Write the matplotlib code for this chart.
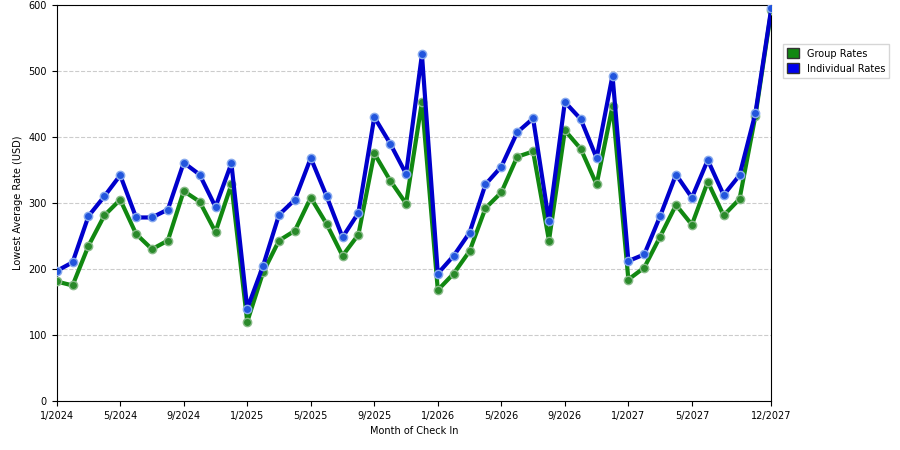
import matplotlib.pyplot as plt
from matplotlib.patches import Patch

individual = [197, 210, 280, 310, 342, 278, 278, 290, 361, 343, 294, 360,
              140, 205, 282, 305, 368, 310, 248, 285, 430, 390, 344, 525,
              193, 220, 255, 328, 355, 407, 428, 272, 453, 427, 368, 493,
              212, 222, 280, 343, 308, 365, 312, 342, 436, 595]
group = [181, 175, 235, 281, 305, 253, 230, 243, 318, 302, 256, 328,
         120, 195, 243, 258, 308, 268, 220, 252, 375, 334, 299, 453,
         168, 193, 227, 292, 316, 370, 378, 243, 410, 382, 328, 447,
         184, 202, 249, 297, 267, 332, 281, 306, 432, 592]
tick_pos = [0, 4, 8, 12, 16, 20, 24, 28, 32, 36, 40, 45]
tick_labels = ['1/2024', '5/2024', '9/2024', '1/2025', '5/2025', '9/2025',
               '1/2026', '5/2026', '9/2026', '1/2027', '5/2027', '12/2027']

fig = plt.figure(figsize=(9, 4.5), dpi=100)
ax = fig.add_axes([0.063, 0.109, 0.794, 0.88])
x = list(range(len(group)))

ax.plot(x, group, color='#118811', lw=3, marker='o', ms=6,
        markerfacecolor='#2a8a2a', markeredgecolor='#88bb88', markeredgewidth=1, zorder=3)
ax.plot(x, individual, color='#0000cc', lw=3, marker='o', ms=6,
        markerfacecolor='#2255dd', markeredgecolor='#88aaee', markeredgewidth=1, zorder=4)

ax.set_xlim(0, 45)
ax.set_ylim(0, 600)
ax.set_xticks(tick_pos)
ax.set_xticklabels(tick_labels, fontsize=7)
ax.set_yticks(range(0, 601, 100))
ax.tick_params(axis='y', labelsize=7)
ax.yaxis.grid(True, linestyle='--', color='#cccccc', lw=0.8)
ax.set_axisbelow(True)
ax.set_xlabel('Month of Check In', fontsize=7)
ax.set_ylabel('Lowest Average Rate (USD)', fontsize=7)

handles = [Patch(facecolor='#118811', edgecolor='#333333', label='Group Rates'),
           Patch(facecolor='#0000ee', edgecolor='#333333', label='Individual Rates')]
fig.legend(handles=handles, loc='upper left', bbox_to_anchor=(0.865, 0.912),
           fontsize=7, frameon=True, fancybox=False, edgecolor='#cccccc',
           handlelength=1.2, handleheight=1.2)

fig.savefig('out.png')
